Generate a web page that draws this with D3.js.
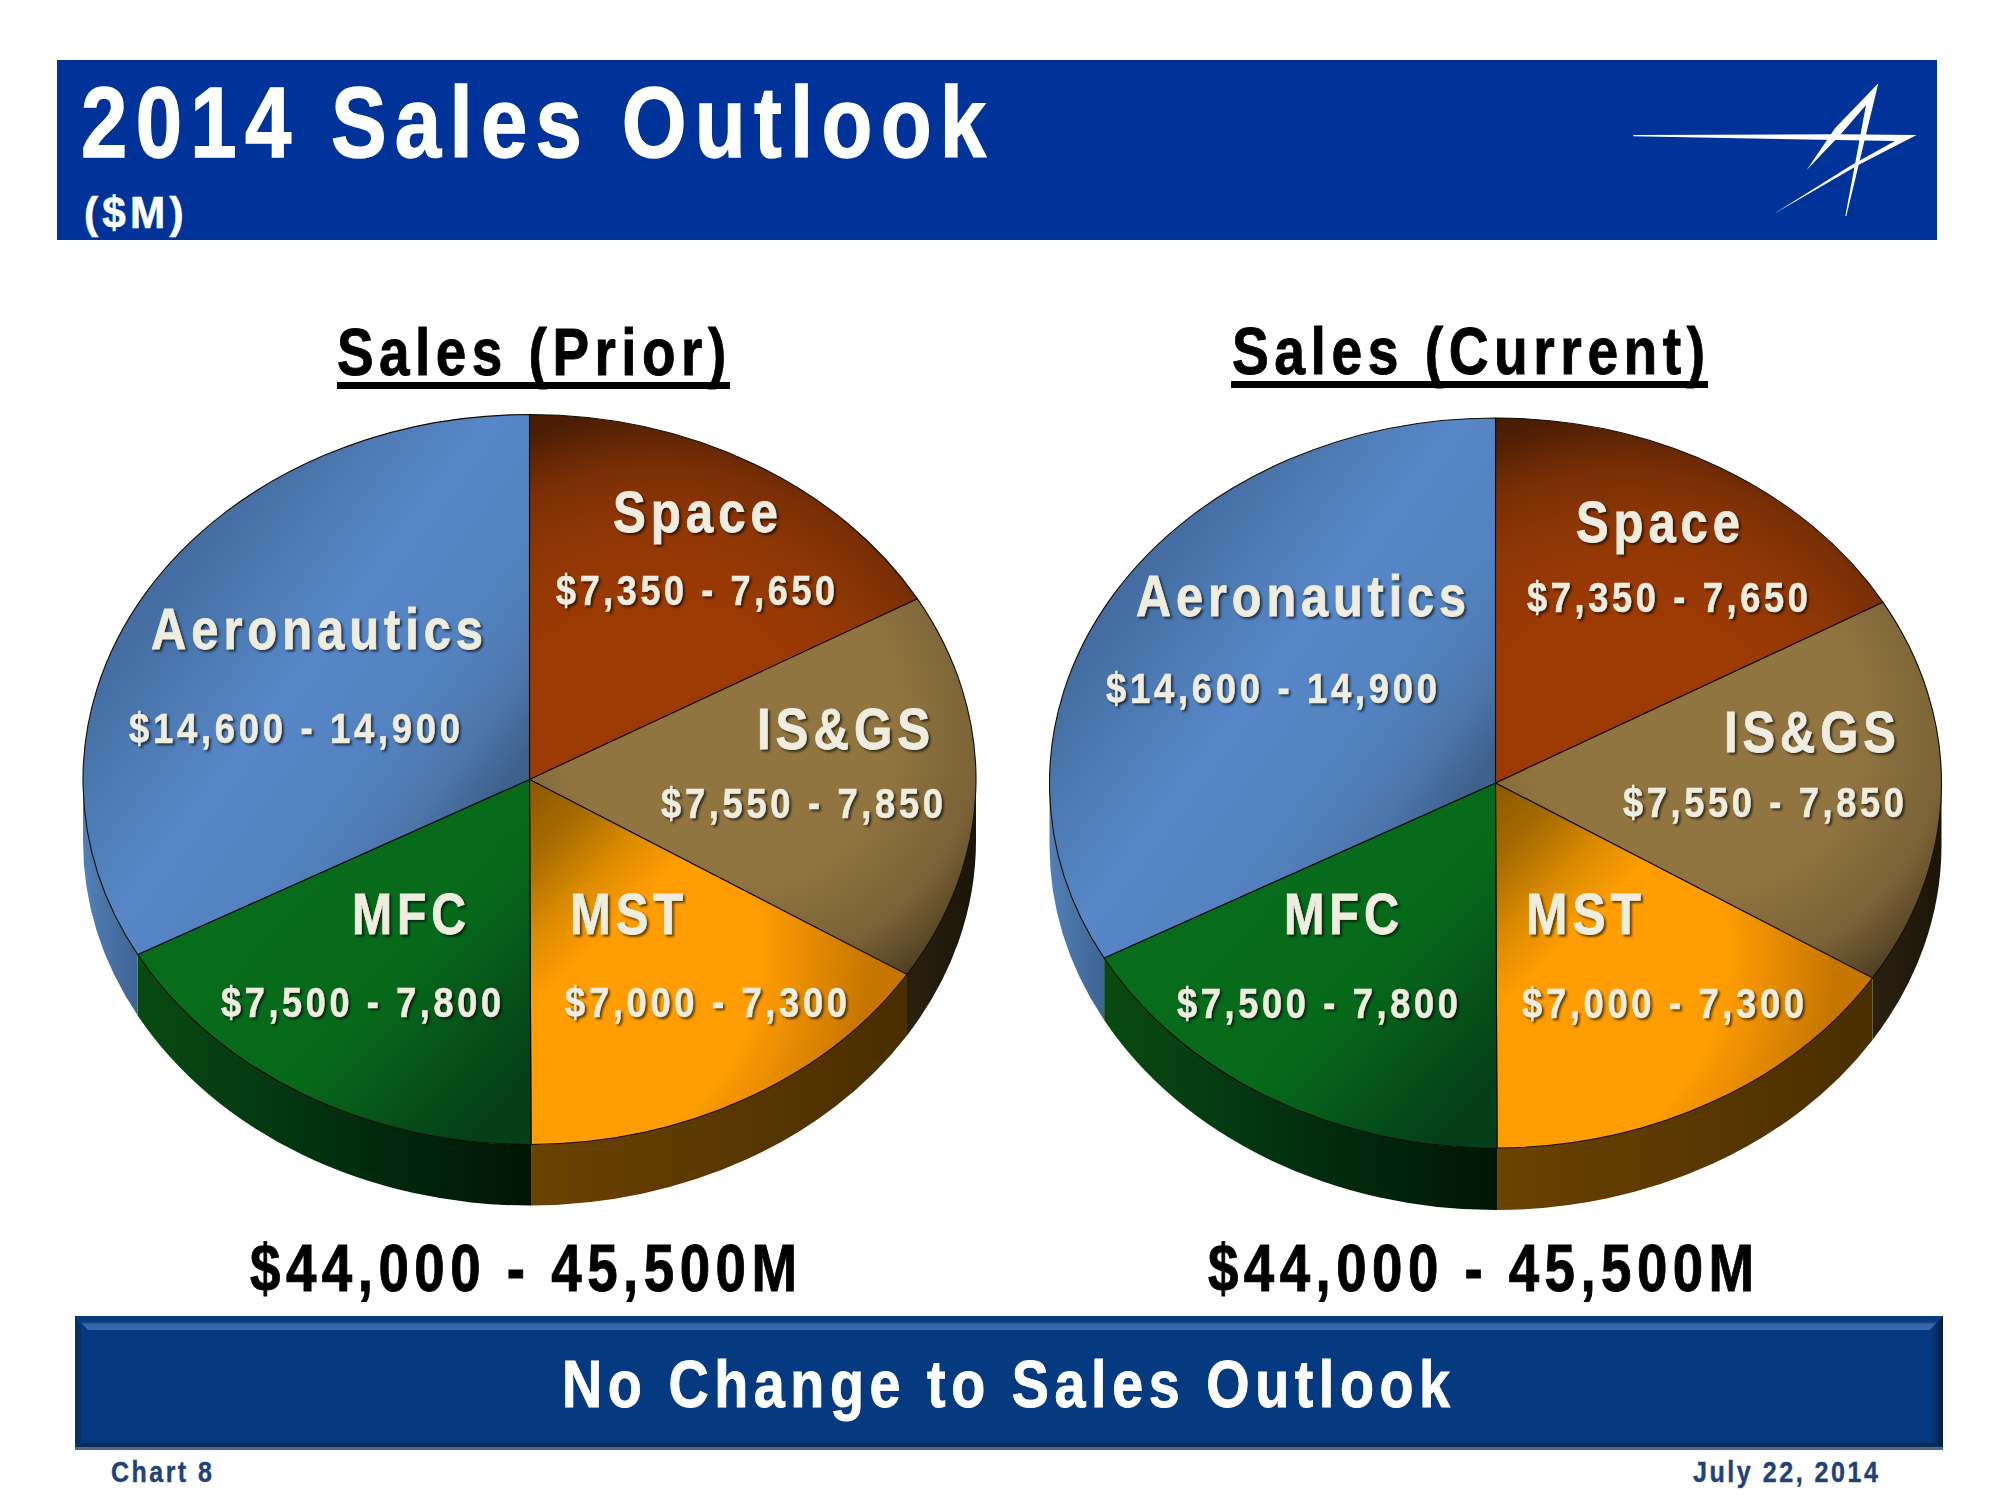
<!DOCTYPE html>
<html><head><meta charset="utf-8">
<script src="https://cdn.jsdelivr.net/npm/d3@7/dist/d3.min.js"></script>
<style>
html,body{margin:0;padding:0;background:#fff}
svg{display:block}
text{font-family:"Liberation Sans",Arial,sans-serif;font-weight:700}
</style></head><body><svg id="c" width="2000" height="1500" viewBox="0 0 2000 1500"></svg>
<script>
// ---- data ----
const segments = ["Space","IS&GS","MST","MFC","Aeronautics"];
const priorLow  = [7350,7550,7000,7500,14600];
const priorHigh = [7650,7850,7300,7800,14900];
const currentLow  = [7350,7550,7000,7500,14600];
const currentHigh = [7650,7850,7300,7800,14900];
const priorTotal = [44000,45500];
const currentTotal = [44000,45500];
const titleText = "2014 Sales Outlook";
const unitText = "($M)";
const bannerText = "No Change to Sales Outlook";
const chartNo = "Chart 8";
const dateText = "July 22, 2014";

// ---- layout (not data) ----
const fmt = d3.format(",");
const svg = d3.select("#c");
const defs = svg.append("defs");
const TAU = Math.PI*2;

const pies = [
 {id:"p",low:priorLow,high:priorHigh,total:priorTotal,title:"Sales (Prior)",
  cx:529.5,cy:779.5,rx:446.5,ry:365,depth:61,
  tx:[337,726],tb:375,ul:[337,730,382,389],
  tot:[250,797,1291],
  names:{Space:[613,778,532],"IS&GS":[757,930,749],MST:[570,683,934],MFC:[352,466,934],Aeronautics:[151,483,649]},
  vals:{Space:[556,835,605],"IS&GS":[661,943,818],MST:[565,847,1017],MFC:[221,501,1017],Aeronautics:[129,460,743]}},
 {id:"c",low:currentLow,high:currentHigh,total:currentTotal,title:"Sales (Current)",
  cx:1495.5,cy:783,rx:446,ry:365,depth:62,
  tx:[1232,1705],tb:374,ul:[1231,1708,381,388],
  tot:[1208,1754,1291],
  names:{Space:[1576,1740,542],"IS&GS":[1724,1896,752],MST:[1526,1641,934],MFC:[1284,1399,934],Aeronautics:[1136,1466,616]},
  vals:{Space:[1527,1808,612],"IS&GS":[1623,1904,817],MST:[1522,1804,1018],MFC:[1177,1458,1018],Aeronautics:[1106,1437,703]}}
];

// shading per segment, all coordinates are pixel offsets from the pie centre
const shade = {
 Space:{type:"r",c:[130,-10],r:420,stops:[[.4,"#9c3a04"],[.6,"#8d3605"],[.72,"#7a2f05"],[.85,"#4e1e04"],[1,"#3e1703"]]},
 "IS&GS":{type:"r",c:[200,-60],r:360,stops:[[0,"#917540"],[.45,"#917540"],[.7,"#7a6337"],[.88,"#4a3a20"],[1,"#362a18"]]},
 MST:{type:"l",a:[-10,0],b:[110,120],stops:[[0,"#875600"],[.4,"#a86c00"],[.7,"#d98a00"],[1,"#ff9d02"]],
      over:{c:[20,170],r:320,stops:[[.66,"rgba(90,45,0,0)"],[1,"rgba(90,45,0,.35)"]]}},
 MFC:{type:"l",a:[-220,90],b:[0,300],stops:[[0,"#076c1c"],[.45,"#076a1b"],[1,"#053e17"]]},
 Aeronautics:{type:"l",a:[-341,-276],b:[-5,-24],stops:[[0,"#41699c"],[.25,"#4c7ab2"],[.45,"#5787c8"],[.72,"#5282be"],[.88,"#4d76ab"],[1,"#3f628c"]]}
};
// side wall shading
const wall = {
 "IS&GS":[[0,"#2a2010"],[1,"#1b1509"]],
 MST:[[0,"#6b4300"],[.5,"#5a3800"],[1,"#4a2e00"]],
 MFC:[[0,"#0a4a12"],[.45,"#023210"],[1,"#001505"]],
 Aeronautics:[[0,"#5280b6"],[1,"#3e6392"]]
};

function stops(g,list){g.selectAll("stop").data(list).join("stop").attr("offset",d=>d[0]).attr("stop-color",d=>d[1]);}

function drawPie(P){
  const g = svg.append("g").attr("class","pie").attr("transform",`translate(${P.cx},${P.cy})`);
  const k = P.ry/P.rx;
  const pie = d3.pie().sort(null).value((d,i)=>(P.low[i]+P.high[i])/2);
  const arcs = pie(segments);
  const arc = d3.arc().innerRadius(0).outerRadius(P.rx);
  const invK = `scale(1,${1/k})`;

  // side walls
  const pt = a=>[P.rx*Math.sin(a), -P.ry*Math.cos(a)];
  const walls = arcs.map(d=>({d,a0:Math.max(d.startAngle,TAU/4),a1:Math.min(d.endAngle,TAU*.75)})).filter(w=>w.a1>w.a0);
  walls.forEach((w,i)=>{
     const [x0,y0]=pt(w.a0),[x1,y1]=pt(w.a1);
     const id=`w${P.id}${i}`;
     // going clockwise the wall runs right to left; gradients read left to right
     const lg=defs.append("linearGradient").attr("id",id).attr("gradientUnits","userSpaceOnUse")
       .attr("x1",x1).attr("x2",x0).attr("y1",0).attr("y2",0);
     stops(lg,wall[w.d.data]);
     g.append("path").attr("class","side")
      .attr("d",`M${x0},${y0}A${P.rx},${P.ry} 0 0 1 ${x1},${y1}L${x1},${y1+P.depth}A${P.rx},${P.ry} 0 0 0 ${x0},${y0+P.depth}Z`)
      .attr("fill",`url(#${id})`);
  });

  // top faces
  const top = g.append("g").attr("transform",`scale(1,${k})`);
  arcs.forEach((d,i)=>{
     const s=shade[d.data], id=`t${P.id}${i}`;
     let gr;
     if(s.type==="l"){
       gr=defs.append("linearGradient").attr("x1",s.a[0]).attr("y1",s.a[1]).attr("x2",s.b[0]).attr("y2",s.b[1]);
     } else {
       gr=defs.append("radialGradient").attr("cx",s.c[0]).attr("cy",s.c[1]).attr("r",s.r);
     }
     gr.attr("id",id).attr("gradientUnits","userSpaceOnUse").attr("gradientTransform",invK);
     stops(gr,s.stops);
     top.append("path").attr("class","slice").attr("d",arc(d)).attr("fill",`url(#${id})`)
        .attr("stroke","#120c04").attr("stroke-width",1.1).attr("vector-effect","non-scaling-stroke").attr("stroke-linejoin","round");
     if(s.over){
       const ov=defs.append("radialGradient").attr("id",id+"o").attr("gradientUnits","userSpaceOnUse")
         .attr("cx",s.over.c[0]).attr("cy",s.over.c[1]).attr("r",s.over.r).attr("gradientTransform",invK);
       stops(ov,s.over.stops);
       top.append("path").attr("d",arc(d)).attr("fill",`url(#${id}o)`);
     }
  });

  // labels
  segments.forEach((name,i)=>{
    const n=P.names[name], v=P.vals[name];
    fit(name,n[0],n[1],n[2],58,"#efece0",true);
    fit(`$${fmt(P.low[i])} - ${fmt(P.high[i])}`,v[0],v[1],v[2],43,"#efece0",true);
  });

  // title + total
  fit(P.title,P.tx[0],P.tx[1],P.tb,67,"#000");
  svg.append("rect").attr("x",P.ul[0]).attr("y",P.ul[2]).attr("width",P.ul[1]-P.ul[0]).attr("height",P.ul[3]-P.ul[2]).attr("fill","#000");
  fit(`$${fmt(P.total[0])} - ${fmt(P.total[1])}M`,P.tot[0],P.tot[1],P.tot[2],66,"#000");
}

// text drawn so that its ink runs from x0 to x1 on the baseline y
function fit(str,x0,x1,y,size,fill,shadow){
  const t=svg.append("text").attr("x",x0).attr("y",y).attr("font-size",size).attr("fill",fill)
    .attr("stroke",fill).attr("stroke-width",size*.014)
    .style("letter-spacing",(size*.1)+"px")
    .attr("textLength",x1-x0+size*.085).attr("lengthAdjust","spacingAndGlyphs").text(str);
  if(shadow) t.style("filter","drop-shadow(2.5px 2.5px 1.2px rgba(0,0,0,.6))");
  return t;
}

// header banner
svg.append("rect").attr("x",57).attr("y",60).attr("width",1880).attr("height",180).attr("fill","#003399");
fit(titleText,81,986,157,100,"#fff");
fit(unitText,84,184,228,44,"#fff");
// logo
const lx=X=>1550+X/3, ly=Y=>50+Y/3;
const logoA=[[250,255],[860,253],[1100,255],[925,345],[673,491],[905,345],[1035,273],[250,259]];
const logoB=[[985,100],[855,235],[770,360],[875,250],[948,165],[886,498],[889,498]];
const logoLine=d3.line().x(d=>lx(d[0])).y(d=>ly(d[1]));
svg.append("path").attr("d",logoLine(logoA)+"Z").attr("fill","#fff");
svg.append("path").attr("d",logoLine(logoB)+"Z").attr("fill","#fff");

pies.forEach(drawPie);

// bottom banner
const bx0=75,bx1=1943,by0=1316,by1=1450;
const v=defs.append("linearGradient").attr("id","bevT").attr("x1",0).attr("y1",0).attr("x2",0).attr("y2",1);
stops(v,[[0,"#093a7c"],[.42,"#0a3d80"],[.58,"#3567a8"],[1,"#3a6bab"]]);
const r=defs.append("linearGradient").attr("id","bevR").attr("x1",0).attr("y1",0).attr("x2",1).attr("y2",0);
stops(r,[[0,"#063a80"],[.5,"#0a2f66"],[1,"#061a38"]]);
svg.append("rect").attr("x",bx0).attr("y",by0).attr("width",bx1-bx0).attr("height",by1-by0).attr("fill","#063a80");
const poly=(pts,f)=>svg.append("polygon").attr("points",pts.map(p=>p.join(",")).join(" ")).attr("fill",f);
poly([[bx0,by0],[bx1,by0],[bx1-13,by0+14],[bx0+13,by0+14]],"url(#bevT)");
poly([[bx0,by0],[bx0+6,by0+10],[bx0+6,by1-7],[bx0,by1-3]],"#0a2f66");
poly([[bx1,by0],[bx1-13,by0+14],[bx1-13,by1-7],[bx1,by1-3]],"url(#bevR)");
poly([[bx0,by1-3],[bx0+8,by1-7],[bx1-8,by1-7],[bx1,by1-3]],"#0e2a52");
svg.append("rect").attr("x",bx0).attr("y",by1-3).attr("width",bx1-bx0).attr("height",3).attr("fill","#4a6d96");
fit(bannerText,562,1450,1407,66,"#fff");
fit(chartNo,111,212,1482,29,"#1f4378");
fit(dateText,1693,1878,1482,29,"#1f4378");
</script></body></html>
